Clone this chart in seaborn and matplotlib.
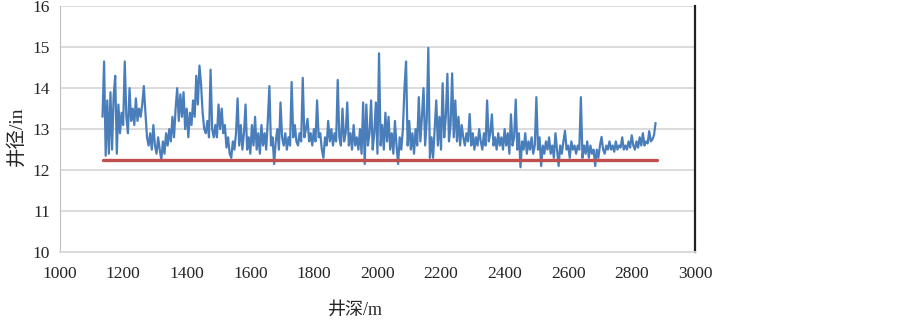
import numpy as np
import pandas as pd
import matplotlib
matplotlib.use('Agg')
import matplotlib.pyplot as plt
import seaborn as sns

# caliper log, one reading every 5 m from 1135 m to 2875 m
depth = np.arange(1135, 2876, 5)
caliper = [
    13.3, 14.65, 12.35, 13.7, 12.4, 13.9, 12.5, 13.8, 14.3, 12.4,
    13.6, 12.9, 13.4, 13.1, 14.65, 13.3, 12.9, 14.0, 13.2, 13.5,
    13.1, 13.75, 13.2, 13.5, 13.3, 13.6, 14.05, 13.4, 12.8, 12.6,
    12.9, 12.5, 13.1, 12.6, 12.4, 12.8, 12.5, 12.25, 12.7, 12.4,
    12.9, 12.6, 13.0, 12.7, 13.3, 12.8, 13.5, 14.0, 13.2, 13.85,
    13.3, 13.9, 13.0, 13.5, 12.8, 13.4, 13.1, 13.7, 13.3, 14.3,
    13.6, 14.55, 14.1, 13.4, 13.0, 12.9, 13.2, 12.8, 14.45, 13.0,
    12.8, 13.1, 12.8, 13.6, 13.0, 13.5, 12.9, 13.1, 12.55, 12.8,
    12.4, 12.3, 12.7, 12.5, 12.9, 13.75, 12.6, 13.1, 12.5, 12.9,
    13.6, 12.5, 12.8, 12.4, 13.1, 12.6, 13.3, 12.5, 12.9, 12.4,
    13.1, 12.6, 12.9, 12.5, 13.2, 14.05, 12.6, 12.8, 12.15, 12.7,
    13.0, 12.5, 13.65, 12.8, 12.6, 12.9, 12.5, 12.8, 12.6, 14.15,
    12.8, 13.1, 12.7, 12.6, 12.9, 12.7, 14.25, 12.8, 13.0, 13.25,
    12.7, 12.9, 12.6, 13.0, 12.7, 13.7, 12.8, 12.9, 12.5, 12.3,
    12.8, 12.6, 13.2, 12.7, 13.0, 12.6, 12.9, 12.7, 14.2, 12.8,
    12.6, 13.5, 12.7, 12.9, 13.65, 12.6, 12.9, 12.5, 13.1, 12.6,
    12.8, 12.5, 13.0, 12.4, 13.65, 12.15, 13.6, 12.6, 12.9, 13.7,
    12.5, 12.9, 13.65, 12.4, 14.85, 12.6, 13.1, 12.5, 13.4, 12.7,
    13.3, 12.5, 12.9, 12.4, 13.2, 12.6, 12.15, 12.8, 12.5, 13.0,
    14.0, 14.65, 12.6, 13.2, 12.5, 12.9, 12.4, 13.0, 12.6, 13.78,
    12.7, 13.3, 14.0, 12.6, 13.2, 14.98, 12.3, 12.8, 12.3, 13.0,
    13.7, 12.6, 13.3, 12.5, 14.12, 12.8, 13.3, 14.35, 12.7, 13.1,
    14.36, 12.8, 13.7, 12.7, 13.3, 12.6, 13.1, 12.8, 12.6, 12.9,
    12.7, 13.37, 12.6, 12.9, 12.5, 12.8, 12.6, 13.0, 12.7, 12.5,
    12.9, 12.6, 13.7, 12.7, 12.9, 13.36, 12.6, 12.8, 12.5, 12.9,
    12.6, 12.8, 12.5, 13.0, 12.6, 12.9, 12.4, 13.36, 12.6, 12.8,
    13.72, 12.5, 12.9, 12.07, 12.7, 12.5, 12.9, 12.4, 12.7, 12.5,
    12.8, 12.4, 12.6, 13.78, 12.5, 12.8, 12.1, 12.6, 12.4, 12.7,
    12.5, 12.8, 12.4, 12.6, 12.3, 12.9, 12.5, 12.1, 12.6, 12.4,
    12.7, 12.96, 12.5, 12.6, 12.3, 12.7, 12.5, 12.6, 12.4, 12.6,
    12.5, 13.78, 12.3, 12.6, 12.4, 12.7, 12.3, 12.6, 12.4, 12.5,
    12.1, 12.5, 12.3, 12.6, 12.81, 12.5, 12.4, 12.6, 12.5, 12.7,
    12.5, 12.6, 12.45, 12.7, 12.5, 12.6, 12.55, 12.8, 12.5, 12.6,
    12.5, 12.7, 12.55, 12.85, 12.6, 12.5, 12.7, 12.55, 12.8, 12.6,
    12.9, 12.6, 12.7, 12.65, 12.95, 12.7, 12.75, 12.85, 13.15,
]

# bit size line
bit_depth = [1135, 2880]
bit_size = [12.25, 12.25]

df = pd.DataFrame({'depth': depth, 'caliper': caliper})
df_bit = pd.DataFrame({'depth': bit_depth, 'bit': bit_size})

sns.set_style('white')
plt.rcParams['font.family'] = ['Liberation Serif', 'Noto Sans CJK SC', 'DejaVu Sans']

fig = plt.figure(figsize=(9.03, 3.22), dpi=100)
ax = fig.add_axes([0.066, 0.217, 0.704, 0.764])

sns.lineplot(data=df, x='depth', y='caliper', color='#4A7EBB', linewidth=1.6, ax=ax)
sns.lineplot(data=df_bit, x='depth', y='bit', color='#C0504D', linewidth=2.4, ax=ax)

ax.set_xlim(1000, 3000)
ax.set_ylim(10, 16)
ax.set_xticks(range(1000, 3001, 200))
ax.set_yticks(range(10, 17))
ax.yaxis.grid(True, color='#D9D9D9', linewidth=1.3)
ax.set_axisbelow(True)

ax.spines['top'].set_visible(False)
ax.spines['left'].set_color('#BFBFBF')
ax.spines['bottom'].set_color('#D9D9D9')
ax.spines['bottom'].set_linewidth(1.3)
ax.spines['right'].set_color('#222222')
ax.spines['right'].set_linewidth(1.6)

ax.tick_params(axis='x', length=4, color='#BFBFBF', labelsize=12.5, pad=6)
ax.tick_params(axis='y', length=4, color='#BFBFBF', labelsize=12.5, pad=3)

ax.set_xlabel('井深/m', fontsize=13)
ax.xaxis.set_label_coords(0.466, -0.2)
ax.set_ylabel('井径/in', fontsize=14)
ax.yaxis.set_label_coords(-0.054, 0.47)

fig.savefig('out.png', dpi=100)
